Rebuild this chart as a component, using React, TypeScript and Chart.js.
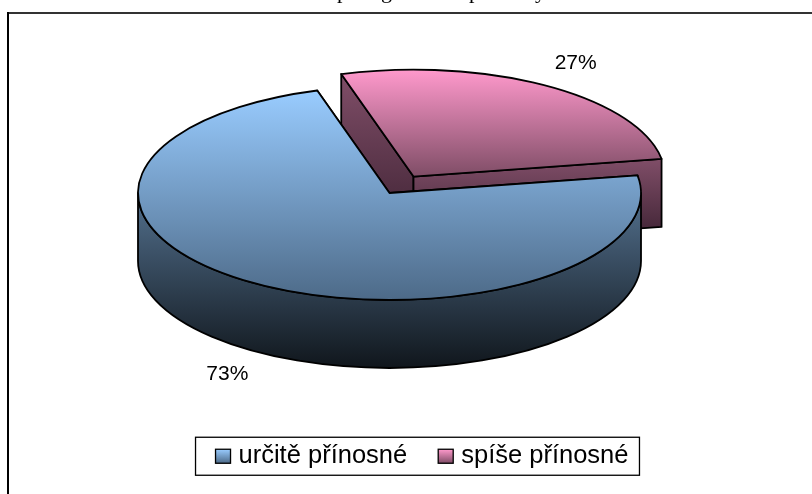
import React, { useEffect, useRef } from "react";
import { Chart, registerables } from "chart.js";

Chart.register(...registerables);

const categories = ["určitě přínosné", "spíše přínosné"];
const shares = [73, 27];
const explode = [0, 34];
const titleFragment = "p\u00a0\u00a0\u00a0\u00a0\u00a0\u00a0g\u00a0\u00a0\u00a0\u00a0\u00a0\u00a0\u00a0\u00a0\u00a0\u00a0\u00a0\u00a0\u00a0\u00a0p\u00a0\u00a0\u00a0\u00a0\u00a0\u00a0\u00a0\u00a0\u00a0\u00a0y";

const topColors = [["#99CCFF", "#4D6A88"], ["#FF99CC", "#7F4D66"]];
const wallColors = [["#5A7A9A", "#10161C"], ["#804E68", "#3A2030"]];

const CX = 389.5, CY = 193, RX = 251.5, RY = 107, DEPTH = 68;

const pie3d = {
  id: "pie3d",
  beforeDatasetDraw(chart: any) {
    const ctx = chart.ctx;
    const arcs = chart.getDatasetMeta(0).data;
    const grad = (y0: number, y1: number, c: string[]) => {
      const g = ctx.createLinearGradient(0, y0, 0, y1);
      g.addColorStop(0, c[0]);
      g.addColorStop(1, c[1]);
      return g;
    };
    ctx.save();
    ctx.strokeStyle = "#000";
    ctx.lineWidth = 1.8;
    ctx.lineJoin = "round";
    const order = arcs.map((_: any, i: number) => i).sort((a: number, b: number) => b - a);
    for (const i of order) {
      const a = arcs[i];
      const s = a.startAngle, e = a.endAngle, mid = (s + e) / 2;
      const f = a.options.offset / a.outerRadius;
      const ox = CX + RX * f * Math.cos(mid), oy = CY + RY * f * Math.sin(mid);
      const px = (t: number) => ox + RX * Math.cos(t);
      const py = (t: number) => oy + RY * Math.sin(t);
      // radial walls
      for (const t of [s, e]) {
        ctx.beginPath();
        ctx.moveTo(ox, oy);
        ctx.lineTo(px(t), py(t));
        ctx.lineTo(px(t), py(t) + DEPTH);
        ctx.lineTo(ox, oy + DEPTH);
        ctx.closePath();
        ctx.fillStyle = grad(Math.min(oy, py(t)), Math.max(oy, py(t)) + DEPTH, wallColors[i]);
        ctx.fill();
        ctx.stroke();
      }
      // outer wall, front-facing part only
      for (const k of [0, 2 * Math.PI]) {
        const w0 = Math.max(s, k), w1 = Math.min(e, k + Math.PI);
        if (w1 <= w0) continue;
        ctx.beginPath();
        ctx.ellipse(ox, oy, RX, RY, 0, w0, w1);
        ctx.ellipse(ox, oy + DEPTH, RX, RY, 0, w1, w0, true);
        ctx.closePath();
        ctx.fillStyle = grad(oy - 18, oy + RY + DEPTH, wallColors[i]);
        ctx.fill();
        ctx.stroke();
      }
      // top face
      let minY = Math.min(oy, py(s), py(e)), maxY = Math.max(oy, py(s), py(e));
      for (let t = s; t < e; t += 0.02) {
        minY = Math.min(minY, py(t));
        maxY = Math.max(maxY, py(t));
      }
      ctx.beginPath();
      ctx.moveTo(ox, oy);
      ctx.ellipse(ox, oy, RX, RY, 0, s, e);
      ctx.closePath();
      ctx.fillStyle = grad(minY, maxY, topColors[i]);
      ctx.fill();
      ctx.stroke();
    }
    ctx.restore();
    return false;
  },
  afterDatasetsDraw(chart: any) {
    const ctx = chart.ctx;
    const arcs = chart.getDatasetMeta(0).data;
    const values = chart.data.datasets[0].data;
    const total = values.reduce((p: number, v: number) => p + v, 0);
    ctx.save();
    ctx.fillStyle = "#000";
    ctx.font = "21px 'Liberation Sans'";
    ctx.textAlign = "center";
    ctx.textBaseline = "middle";
    arcs.forEach((a: any, i: number) => {
      const mid = (a.startAngle + a.endAngle) / 2;
      const f = a.options.offset / a.outerRadius + 1.245;
      const sin = Math.sin(mid);
      const x = CX + RX * (f - 0.025) * Math.cos(mid);
      const y = CY + RY * f * sin + (sin > 0 ? DEPTH : 0);
      ctx.fillText(Math.round((values[i] / total) * 100) + "%", x, y);
    });
    ctx.restore();
  },
  afterDraw(chart: any) {
    const ctx = chart.ctx;
    const hits = chart.legend.legendHitBoxes;
    ctx.save();
    // page frame, cut off by the window on the right and at the bottom
    ctx.fillStyle = "#333";
    ctx.fillRect(7, 12, 805, 2);
    ctx.fillStyle = "#000";
    ctx.fillRect(7, 12, 2, 482);
    // caption above, cut off by the top of the window
    ctx.font = "22px 'Liberation Serif'";
    ctx.textBaseline = "alphabetic";
    ctx.fillText(titleFragment, 337, -2);
    // legend frame and markers
    const first = hits[0], last = hits[hits.length - 1];
    const my = first.top + first.height / 2;
    ctx.strokeStyle = "#000";
    ctx.lineWidth = 1.3;
    ctx.strokeRect(first.left - 20, my - 19, last.left + last.width + 11 - (first.left - 20), 38);
    hits.forEach((h: any, i: number) => {
      const g = ctx.createLinearGradient(0, my - 7, 0, my + 7);
      g.addColorStop(0, topColors[i][0]);
      g.addColorStop(1, topColors[i][1]);
      ctx.fillStyle = g;
      ctx.fillRect(h.left, my - 7, 15, 14);
      ctx.strokeRect(h.left, my - 7, 15, 14);
    });
    ctx.restore();
  },
};

export default function App() {
  const ref = useRef<HTMLCanvasElement>(null);
  useEffect(() => {
    document.body.style.margin = "0";
    const chart = new Chart(ref.current as HTMLCanvasElement, {
      type: "pie",
      data: {
        labels: categories,
        datasets: [{ data: shares, offset: explode, backgroundColor: ["#99CCFF", "#FF99CC"] }],
      },
      options: {
        responsive: false,
        animation: false,
        events: [],
        rotation: 80.5,
        layout: { padding: { left: 32, right: 0, top: 0, bottom: 15 } },
        plugins: {
          tooltip: { enabled: false },
          title: { display: false },
          legend: {
            position: "bottom",
            labels: {
              boxWidth: 10.25,
              boxHeight: 14,
              padding: 31,
              color: "#000",
              font: { size: 25.5, family: "'Liberation Sans'" },
              generateLabels: (c: any) =>
                c.data.labels.map((text: string, i: number) => ({
                  text,
                  index: i,
                  fillStyle: "rgba(0,0,0,0)",
                  strokeStyle: "rgba(0,0,0,0)",
                  lineWidth: 0,
                })),
            },
          },
        },
      },
      plugins: [pie3d],
    } as any);
    return () => chart.destroy();
  }, []);
  return <canvas ref={ref} width={812} height={494} style={{ display: "block" }} />;
}
